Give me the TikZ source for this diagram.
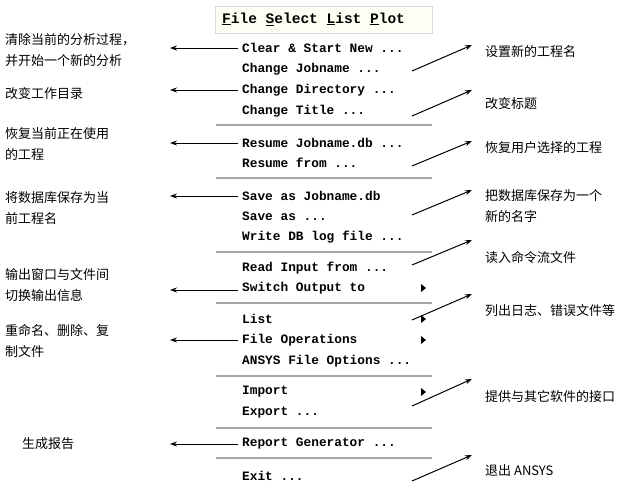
\documentclass[tikz,border=0pt]{standalone}
\usepackage{fontspec}
\setmonofont{Liberation Mono}
\newfontfamily\cjk{Noto Sans CJK SC}
\usetikzlibrary{arrows.meta}
\begin{document}
\begin{tikzpicture}[x=1pt,y=-1pt,
	item/.style={anchor=west,inner sep=0pt,font=\ttfamily\bfseries\fontsize{12.8}{14}\selectfont},
	note/.style={anchor=west,inner sep=0pt,align=left,font=\cjk\fontsize{13}{21}\selectfont},
	pointer/.style={-{Stealth[length=7pt,width=5pt]},line width=1pt},
	sep/.style={gray!70,line width=1.5pt}]

% frame %{{{2

	\useasboundingbox (0,0) rectangle (640,488);
	\fill[white] (0,0) rectangle (640,488);
	\fill[black!8!yellow!5!white, draw=black!15] (215,6) rectangle (432,33);
	\node[item,font=\ttfamily\bfseries\fontsize{14.5}{16}\selectfont] (bar) at (222,19) {\underline{F}ile \underline{S}elect \underline{L}ist \underline{P}lot};

% separators %{{{2

	\foreach \y in {125,178,252,303,376,428,458} { \draw[sep] (216,\y) -- (432,\y); }

% menu items %{{{2

	\node[item] (m1) at (242,48) {Clear \& Start New ...};
	\node[item] (m2) at (242,69) {Change Jobname ...};
	\node[item] (m3) at (242,90) {Change Directory ...};
	\node[item] (m4) at (242,111) {Change Title ...};
	\node[item] (m5) at (242,143) {Resume Jobname.db ...};
	\node[item] (m6) at (242,163) {Resume from ...};
	\node[item] (m7) at (242,196) {Save as Jobname.db};
	\node[item] (m8) at (242,216) {Save as ...};
	\node[item] (m9) at (242,237) {Write DB log file ...};
	\node[item] (m10) at (242,268) {Read Input from ...};
	\node[item] (m11) at (242,288) {Switch Output to};
	\node[item] (m12) at (242,319) {List};
	\node[item] (m13) at (242,340) {File Operations};
	\node[item] (m14) at (242,361) {ANSYS File Options ...};
	\node[item] (m15) at (242,392) {Import};
	\node[item] (m16) at (242,413) {Export ...};
	\node[item] (m17) at (242,444) {Report Generator ...};
	\node[item] (m18) at (242,476) {Exit ...};

	\foreach \y in {288,319,340,392} { \fill (421,\y-4) -- (426,\y) -- (421,\y+4) -- cycle; }

% left notes %{{{2

	\node[note] (l1) at (5,50) {清除当前的分析过程，\\并开始一个新的分析};
	\node[note] (l2) at (5,94) {改变工作目录};
	\node[note] (l3) at (5,144) {恢复当前正在使用\\的工程};
	\node[note] (l4) at (5,208) {将数据库保存为当\\前工程名};
	\node[note] (l5) at (5,285) {输出窗口与文件间\\切换输出信息};
	\node[note] (l6) at (5,341) {重命名、删除、复\\制文件};
	\node[note] (l7) at (22,444) {生成报告};

	\foreach \m/\y in {1/48,3/90,5/143,7/196,11/290,13/340,17/444} {
		\coordinate (s\m) at (238,\y);
		\coordinate (e\m) at (170,\y);
		\draw[pointer] (s\m) -- (e\m);
	}

% right notes %{{{2

	\node[note] (r1) at (485,52) {设置新的工程名};
	\node[note] (r2) at (485,104) {改变标题};
	\node[note] (r3) at (485,148) {恢复用户选择的工程};
	\node[note] (r4) at (485,206) {把数据库保存为一个\\新的名字};
	\node[note] (r5) at (485,258) {读入命令流文件};
	\node[note] (r6) at (485,311) {列出日志、错误文件等};
	\node[note] (r7) at (485,397) {提供与其它软件的接口};
	\node[note] (r8) at (485,471) {退出 ANSYS};

	\foreach \i/\a/\b in {1/71/45,2/116/90,3/166/141,4/215/190,5/265/240,6/320/294,7/406/379,8/481/455} {
		\coordinate (a\i) at (412,\a);
		\coordinate (b\i) at (472,\b);
		\draw[pointer] (a\i) -- (b\i);
	}

\end{tikzpicture}
\end{document}
